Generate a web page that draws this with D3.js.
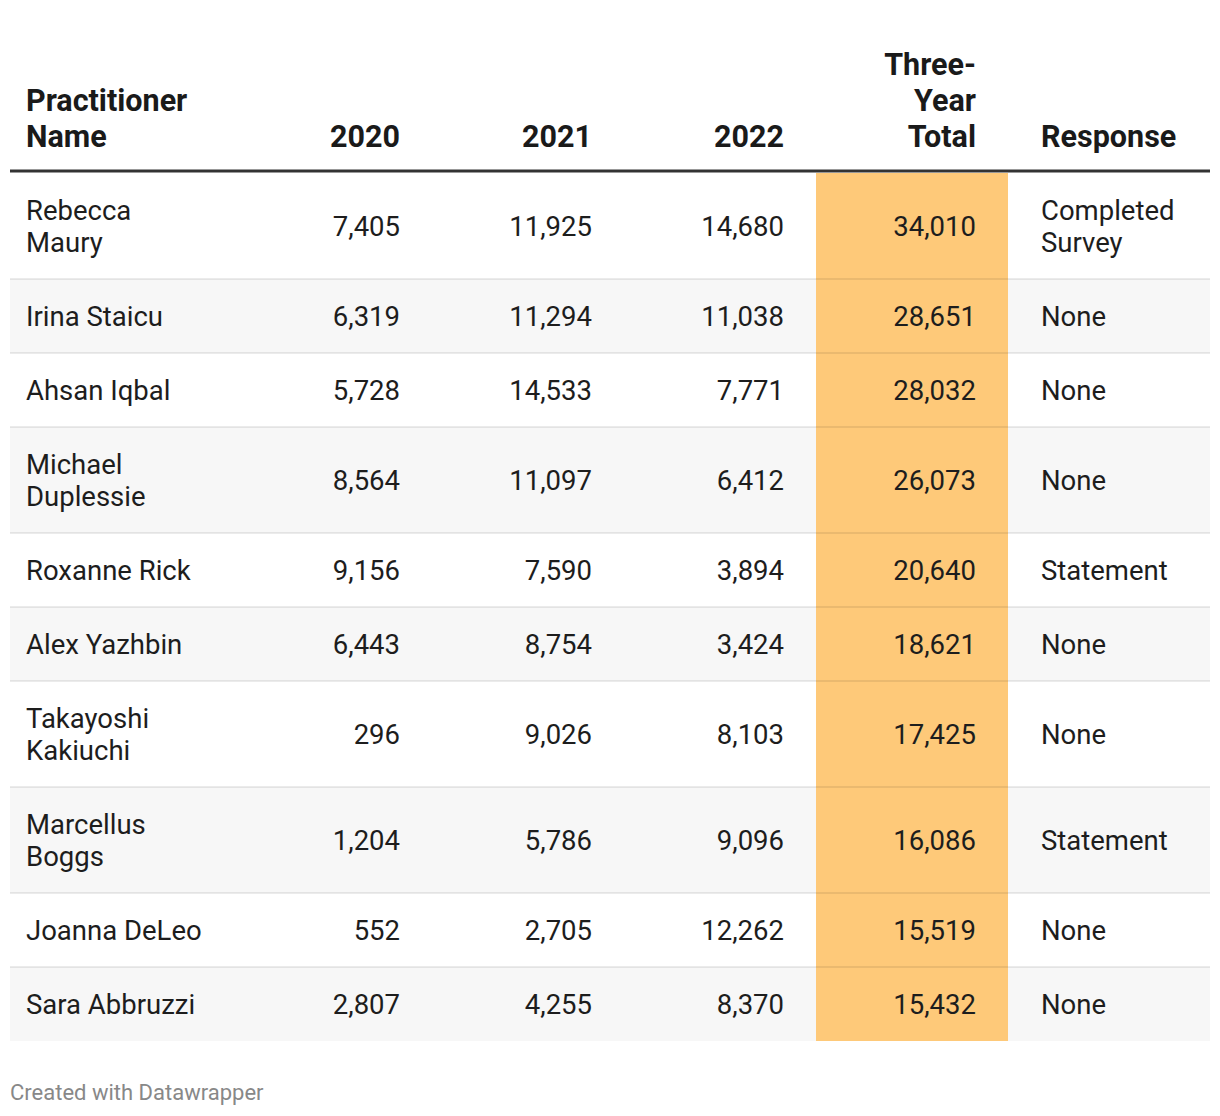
<!DOCTYPE html>
<html>
<head>
<meta charset="utf-8">
<script src="https://cdn.jsdelivr.net/npm/d3@7"></script>
<style>
  html, body { margin: 0; padding: 0; background: #fff; }
  svg text { font-family: Roboto, "Noto Sans", sans-serif; }
</style>
</head>
<body>
<svg id="chart" width="1220" height="1116"></svg>
<script>
// ---- data ----
const names = ["Rebecca Maury", "Irina Staicu", "Ahsan Iqbal", "Michael Duplessie", "Roxanne Rick",
  "Alex Yazhbin", "Takayoshi Kakiuchi", "Marcellus Boggs", "Joanna DeLeo", "Sara Abbruzzi"];
const v2020 = [7405, 6319, 5728, 8564, 9156, 6443, 296, 1204, 552, 2807];
const v2021 = [11925, 11294, 14533, 11097, 7590, 8754, 9026, 5786, 2705, 4255];
const v2022 = [14680, 11038, 7771, 6412, 3894, 3424, 8103, 9096, 12262, 8370];
const totals = [34010, 28651, 28032, 26073, 20640, 18621, 17425, 16086, 15519, 15432];
const responses = ["Completed Survey", "None", "None", "None", "Statement", "None", "None", "Statement", "None", "None"];
const headers = [["Practitioner", "Name"], ["2020"], ["2021"], ["2022"], ["Three-", "Year", "Total"], ["Response"]];
const footer = "Created with Datawrapper";

// ---- layout ----
const svg = d3.select("#chart");
const left = 10, right = 1210;
const fmt = d3.format(",");
const fs = 27.5, hfs = 30.5, lh = 32;
const textCol = "#1d1d1d";

// column edges: name | 2020 | 2021 | 2022 | total | response
const colEdges = [10, 240, 432, 624, 816, 1008, 1210];
const cols = [
  {key: "name", align: "left", pad: 16, maxW: 182},
  {key: "v2020", align: "right", pad: 32},
  {key: "v2021", align: "right", pad: 32},
  {key: "v2022", align: "right", pad: 32},
  {key: "total", align: "right", pad: 32},
  {key: "resp", align: "left", pad: 33, maxW: 160}
];
const colX = i => cols[i].align === "left" ? colEdges[i] + cols[i].pad : colEdges[i + 1] - cols[i].pad;

// measure for wrapping
const measure = svg.append("text").attr("font-size", fs).attr("visibility", "hidden");
function wrap(str, maxW) {
  if (!maxW) return [str];
  const words = str.split(" ");
  const lines = [];
  let cur = "";
  words.forEach(w => {
    const t = cur ? cur + " " + w : w;
    measure.text(t);
    if (measure.node().getComputedTextLength() > maxW && cur) { lines.push(cur); cur = w; }
    else cur = t;
  });
  if (cur) lines.push(cur);
  return lines;
}

const rows = names.map((n, i) => {
  const nameLines = wrap(n, cols[0].maxW);
  const respLines = wrap(responses[i], cols[5].maxW);
  return {
    cells: [nameLines, [fmt(v2020[i])], [fmt(v2021[i])], [fmt(v2022[i])], [fmt(totals[i])], respLines],
    lines: Math.max(nameLines.length, respLines.length)
  };
});
measure.remove();

const headerBottom = 173;
const baseH = 74;
let yAcc = headerBottom;
rows.forEach(r => { r.h = baseH + (r.lines - 1) * lh; r.y = yAcc; yAcc += r.h; });
const tableBottom = yAcc;

const yScale = d3.scaleOrdinal().domain(d3.range(rows.length)).range(rows.map(r => r.y));

// row backgrounds (striping)
svg.append("g").selectAll("rect").data(rows).join("rect")
  .attr("x", left).attr("width", right - left)
  .attr("y", (d, i) => yScale(i)).attr("height", d => d.h)
  .attr("fill", (d, i) => i % 2 === 1 ? "#f7f7f7" : "#ffffff");

// highlight total column
svg.append("rect")
  .attr("x", colEdges[4]).attr("width", colEdges[5] - colEdges[4])
  .attr("y", headerBottom).attr("height", tableBottom - headerBottom)
  .attr("fill", "#fec979");

// row separators
svg.append("g").selectAll("line").data(rows.slice(1)).join("line")
  .attr("x1", left).attr("x2", right)
  .attr("y1", d => d.y).attr("y2", d => d.y)
  .attr("stroke", "#000").attr("stroke-opacity", 0.08).attr("stroke-width", 2);

// header line
svg.append("line").attr("x1", left).attr("x2", right)
  .attr("y1", 171).attr("y2", 171).attr("stroke", "#333").attr("stroke-width", 3);

// header text
const headerG = svg.append("g");
headers.forEach((lines, ci) => {
  const lastBase = 147;
  const t = headerG.append("text")
    .attr("font-size", hfs).attr("font-weight", 700).attr("fill", "#1a1a1a")
    .attr("text-anchor", cols[ci].align === "left" ? "start" : "end");
  lines.forEach((ln, k) => {
    t.append("tspan").attr("x", colX(ci))
      .attr("y", lastBase - (lines.length - 1 - k) * 36).text(ln);
  });
});

// body cells
const rowG = svg.append("g").selectAll("g").data(rows).join("g");
rowG.each(function(r, ri) {
  const g = d3.select(this);
  const cy = yScale(ri) + r.h / 2;
  r.cells.forEach((lines, ci) => {
    const t = g.append("text")
      .attr("font-size", fs).attr("fill", textCol)
      .attr("text-anchor", cols[ci].align === "left" ? "start" : "end");
    const first = cy - (lines.length - 1) * lh / 2 + fs * 0.36;
    lines.forEach((ln, k) => {
      t.append("tspan").attr("x", colX(ci)).attr("y", first + k * lh).text(ln);
    });
  });
});

// footer
svg.append("text").attr("x", 10).attr("y", 1100)
  .attr("font-size", 22).attr("fill", "#888").text(footer);
</script>
</body>
</html>
